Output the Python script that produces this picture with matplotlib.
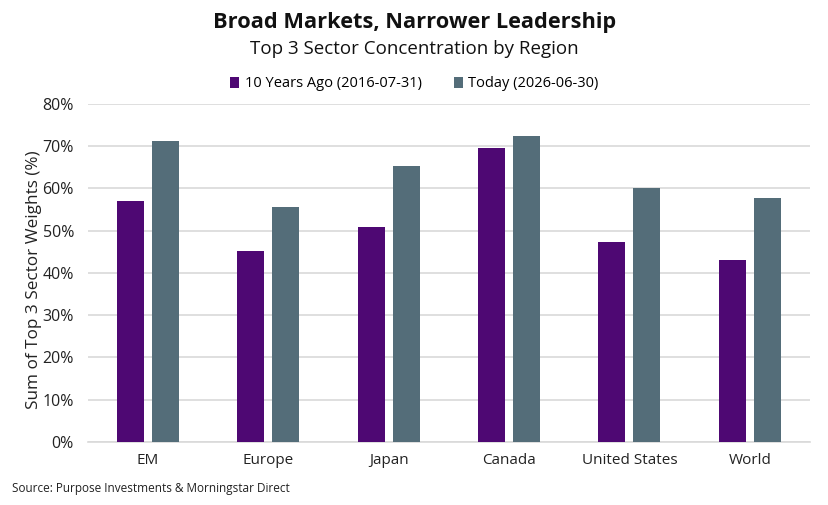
import matplotlib.pyplot as plt
import numpy as np
from matplotlib.ticker import PercentFormatter

regions = ["EM", "Europe", "Japan", "Canada", "United States", "World"]
ten_years_ago = [57.0, 45.3, 50.9, 69.6, 47.4, 43.0]
today = [71.3, 55.6, 65.3, 72.4, 60.0, 57.8]
series_names = ["10 Years Ago (2016-07-31)", "Today (2026-06-30)"]

purple = "#4e0873"
slate = "#546d79"
grid_col = "#d9d9d9"
text_col = "#222222"

plt.rcParams["font.family"] = ["Open Sans", "DejaVu Sans"]

fig = plt.figure(figsize=(8.29, 5.05), dpi=100)
ax = fig.add_axes([0.106, 0.125, 0.871, 0.669])

x = np.arange(len(regions))
w = 0.224
off = 0.145
ax.bar(x - off, ten_years_ago, w, color=purple, label=series_names[0], zorder=3)
ax.bar(x + off, today, w, color=slate, label=series_names[1], zorder=3)

ax.set_ylim(0, 80)
ax.set_xlim(-0.5, len(regions) - 0.5)
ax.set_yticks(np.arange(0, 81, 10))
ax.yaxis.set_major_formatter(PercentFormatter(decimals=0))
ax.set_xticks(x)
ax.set_xticklabels(regions)
ax.grid(axis="y", color=grid_col, linewidth=1.2, zorder=0)
for s in ["top", "right", "left"]:
    ax.spines[s].set_visible(False)
ax.spines["bottom"].set_color(grid_col)
ax.spines["bottom"].set_linewidth(1.2)
ax.tick_params(axis="x", length=0, labelsize=11, colors=text_col, pad=8)
ax.tick_params(axis="y", length=0, labelsize=11.5, colors=text_col, pad=10)
ax.set_ylabel("Sum of Top 3 Sector Weights (%)", fontsize=12.3, color=text_col)
ax.yaxis.set_label_coords(-0.064, 0.48)

fig.text(0.5, 0.955, "Broad Markets, Narrower Leadership", ha="center", va="center",
         fontsize=15.7, fontweight="bold", color="#111111")
fig.text(0.5, 0.903, "Top 3 Sector Concentration by Region", ha="center", va="center",
         fontsize=13.5, color="#111111")
fig.legend(loc="center", bbox_to_anchor=(0.5, 0.834), ncol=2, frameon=False,
           fontsize=10.5, handlelength=0.6, handleheight=0.8, handletextpad=0.4,
           columnspacing=2.2)
fig.text(0.014, 0.033, "Source: Purpose Investments & Morningstar Direct", ha="left",
         va="center", fontsize=8.5, color=text_col)

fig.savefig("out.png", dpi=100)
